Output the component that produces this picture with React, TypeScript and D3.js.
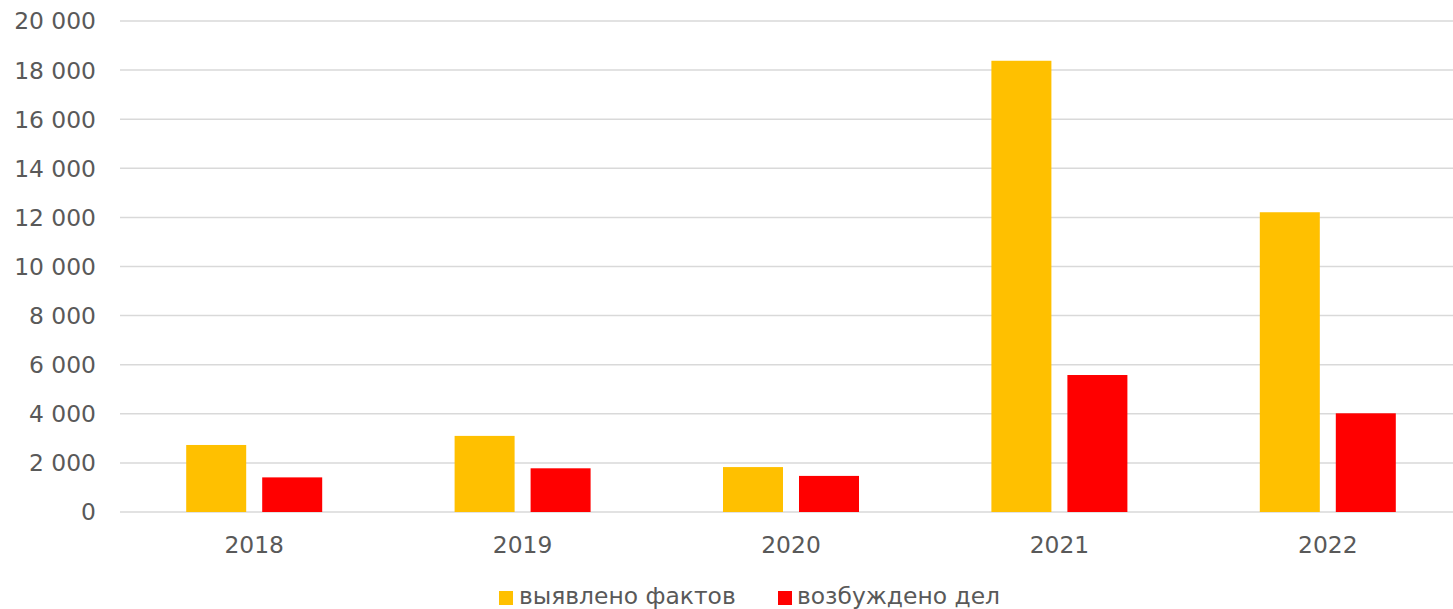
import React from 'react';
import * as d3 from 'd3';

const years = ['2018', '2019', '2020', '2021', '2022'];
const seriesNames = ['выявлено фактов', 'возбуждено дел'];
const detected = [2730, 3100, 1830, 18380, 12210];
const initiated = [1410, 1780, 1470, 5580, 4020];
const yTicks = [0, 2000, 4000, 6000, 8000, 10000, 12000, 14000, 16000, 18000, 20000];
const colors = ['#FFC000', '#FF0000'];

const W = 1453;
const H = 609;
const margin = { top: 21, right: -9, bottom: 97, left: 120 };
const font = '"DejaVu Sans", Verdana, sans-serif';

export default function App() {
  const values = [detected, initiated];

  // шкалы
  const x = d3.scaleBand<string>()
    .domain(years)
    .range([margin.left, W - margin.right]);

  const groupW = 136;
  const xInner = d3.scaleBand<string>()
    .domain(seriesNames)
    .range([0, groupW])
    .paddingInner(16 / 76);

  const y = d3.scaleLinear()
    .domain([0, 20000])
    .range([H - margin.bottom, margin.top]);

  const fmt = (v: number) => d3.format(',')(v).replace(/,/g, ' ');

  // легенда: позиции маркеров
  const legend = [
    { sx: 499, tx: 519 },
    { sx: 778, tx: 797 },
  ];

  return (
    <svg width={W} height={H} style={{ position: 'absolute', left: 0, top: 0, background: '#fff' }}>
      {/* сетка и подписи оси Y */}
      {yTicks.map(t => (
        <g key={t}>
          <line x1={margin.left} x2={W} y1={y(t)} y2={y(t)} stroke="#d9d9d9" strokeWidth={1.5} />
          <text x={96} y={y(t)} dy="0.36em" textAnchor="end" fontFamily={font} fontSize={23.4} fill="#595959">
            {fmt(t)}
          </text>
        </g>
      ))}

      {/* столбцы */}
      {years.map((yr, i) => {
        const gx = (x(yr) as number) + (x.bandwidth() - groupW) / 2;
        return (
          <g key={yr} transform={`translate(${gx},0)`}>
            {seriesNames.map((s, j) => (
              <rect
                key={s}
                x={xInner(s)}
                y={y(values[j][i])}
                width={xInner.bandwidth()}
                height={y(0) - y(values[j][i])}
                fill={colors[j]}
              />
            ))}
          </g>
        );
      })}

      {/* подписи оси X */}
      {years.map(yr => (
        <text key={yr} x={(x(yr) as number) + x.bandwidth() / 2} y={553} textAnchor="middle"
          fontFamily={font} fontSize={23.4} fill="#595959">
          {yr}
        </text>
      ))}

      {/* легенда */}
      {seriesNames.map((s, j) => (
        <g key={s}>
          <rect x={legend[j].sx} y={591} width={14} height={14} fill={colors[j]} />
          <text x={legend[j].tx} y={604} fontFamily={font} fontSize={23.4} fill="#595959">{s}</text>
        </g>
      ))}
    </svg>
  );
}
